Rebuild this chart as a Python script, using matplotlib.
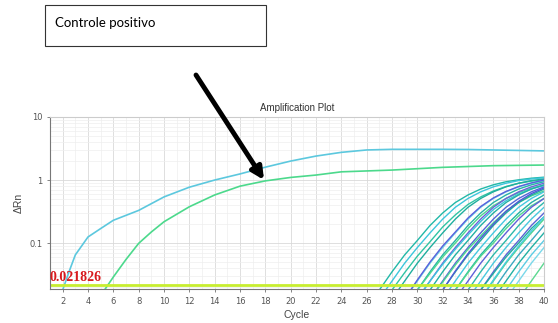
"""Amplification plot (qPCR) with the positive control highlighted."""

import matplotlib

matplotlib.use("Agg")
import matplotlib.pyplot as plt
import numpy as np
from matplotlib.patches import Rectangle
from matplotlib.ticker import FixedLocator, MultipleLocator, NullFormatter

# positive control curves (cycle, delta Rn)
cyan_cycles = [2.0, 2.5, 3, 4, 5, 6, 8, 10, 12, 14, 16, 18, 20, 22, 24, 26, 28, 30, 32, 34, 36, 38, 40]
cyan_drn = [0.018, 0.035, 0.065, 0.125, 0.17, 0.23, 0.33, 0.54, 0.77, 1.0, 1.25, 1.6, 2.0, 2.4, 2.75,
            3.0, 3.07, 3.07, 3.07, 3.05, 3.0, 2.95, 2.9]
green_cycles = [5.3, 6, 7, 8, 9, 10, 12, 14, 16, 18, 20, 22, 24, 28, 32, 36, 40]
green_drn = [0.018, 0.029, 0.055, 0.099, 0.15, 0.218, 0.377, 0.58, 0.8, 0.97, 1.1, 1.2, 1.35, 1.44,
             1.59, 1.69, 1.73]

# sample curves: first cycle, then delta Rn for each cycle up to 40
sample_start = [26, 27, 27, 28, 29, 29, 29, 29, 30, 30, 30, 31, 31, 31, 31,
                32, 32, 32, 33, 33, 34, 34, 34, 35, 35, 35, 36, 36, 37, 38]
sample_drn = [
    [0.005, 0.018, 0.035, 0.065, 0.11, 0.19, 0.30, 0.44, 0.58, 0.72, 0.84, 0.94, 1.01, 1.07, 1.11],
    [0.013, 0.025, 0.048, 0.085, 0.145, 0.24, 0.37, 0.51, 0.65, 0.78, 0.89, 0.98, 1.04, 1.09],
    [0.005, 0.018, 0.034, 0.062, 0.105, 0.18, 0.28, 0.41, 0.54, 0.67, 0.79, 0.89, 0.96, 1.02],
    [0.013, 0.025, 0.048, 0.085, 0.145, 0.24, 0.37, 0.51, 0.65, 0.78, 0.89, 0.98, 1.04],
    [0.013, 0.025, 0.048, 0.085, 0.145, 0.24, 0.37, 0.51, 0.65, 0.78, 0.89, 0.98],
    [0.013, 0.026, 0.05, 0.09, 0.15, 0.25, 0.38, 0.52, 0.66, 0.79, 0.90, 1.0],
    [0.005, 0.018, 0.035, 0.065, 0.11, 0.19, 0.30, 0.44, 0.58, 0.72, 0.84, 0.94],
    [0.005, 0.018, 0.033, 0.06, 0.10, 0.17, 0.27, 0.39, 0.51, 0.63, 0.74, 0.83],
    [0.013, 0.025, 0.048, 0.085, 0.145, 0.24, 0.37, 0.51, 0.65, 0.78, 0.89],
    [0.013, 0.025, 0.046, 0.08, 0.135, 0.22, 0.34, 0.47, 0.60, 0.72, 0.82],
    [0.005, 0.018, 0.035, 0.065, 0.11, 0.19, 0.30, 0.44, 0.58, 0.72, 0.84],
    [0.013, 0.025, 0.048, 0.085, 0.145, 0.24, 0.37, 0.51, 0.65, 0.78],
    [0.013, 0.024, 0.045, 0.08, 0.13, 0.21, 0.32, 0.44, 0.56, 0.67],
    [0.005, 0.018, 0.035, 0.065, 0.11, 0.19, 0.30, 0.44, 0.58, 0.72],
    [0.005, 0.018, 0.036, 0.068, 0.12, 0.20, 0.32, 0.46, 0.61, 0.75],
    [0.013, 0.025, 0.048, 0.085, 0.145, 0.24, 0.37, 0.51, 0.65],
    [0.005, 0.018, 0.035, 0.065, 0.11, 0.19, 0.30, 0.44, 0.58],
    [0.005, 0.018, 0.034, 0.062, 0.10, 0.17, 0.27, 0.39, 0.51],
    [0.013, 0.025, 0.048, 0.085, 0.145, 0.24, 0.37, 0.51],
    [0.005, 0.018, 0.035, 0.065, 0.11, 0.19, 0.30, 0.44],
    [0.013, 0.025, 0.048, 0.085, 0.145, 0.24, 0.37],
    [0.005, 0.018, 0.035, 0.065, 0.11, 0.19, 0.30],
    [0.005, 0.018, 0.033, 0.06, 0.10, 0.17, 0.26],
    [0.013, 0.025, 0.048, 0.085, 0.145, 0.24],
    [0.013, 0.026, 0.05, 0.09, 0.155, 0.26],
    [0.005, 0.018, 0.035, 0.065, 0.11, 0.19],
    [0.013, 0.025, 0.048, 0.085, 0.145],
    [0.005, 0.018, 0.035, 0.065, 0.11],
    [0.013, 0.025, 0.048, 0.085],
    [0.013, 0.025, 0.048],
]
sample_colors = ["#22b8a8", "#3cc6dc", "#2fc4a4", "#1fae9e", "#66d4e6", "#5a5fdc", "#26b4a6",
                 "#4cd88e", "#6a62d8", "#3cc6dc", "#22b0a4", "#5566d8", "#4cd88e", "#20aaa0",
                 "#5058d6", "#44c8e0", "#22b4a6", "#50d890", "#6060d8", "#2cb8aa", "#48c8de",
                 "#5a64d6", "#22aca0", "#4cd490", "#48cce0", "#3aa8c0", "#22b0a4", "#5ccce4",
                 "#7ad8ea", "#5cd890"]

threshold = 0.021826
x_ticks = list(range(2, 41, 2))

fig = plt.figure(figsize=(5.58, 3.23), dpi=100)
ax = fig.add_axes([50 / 558, 1 - 289 / 323, 494 / 558, 172 / 323])

for start, vals, col in zip(sample_start, sample_drn, sample_colors):
    cyc = np.arange(start, start + len(vals))
    ax.plot(cyc, vals, color=col, lw=1.0)

ax.plot(cyan_cycles, cyan_drn, color="#5cc8de", lw=1.2)
ax.plot(green_cycles, green_drn, color="#4cd98c", lw=1.2)
ax.axhline(threshold, color="#c8ee30", lw=2.0)

ax.set_yscale("log")
ax.set_xlim(1, 40)
ax.set_ylim(0.0187, 10)
ax.xaxis.set_major_locator(FixedLocator(x_ticks))
ax.xaxis.set_minor_locator(MultipleLocator(1))
ax.yaxis.set_minor_formatter(NullFormatter())
ax.set_yticks([0.1, 1, 10])
ax.set_yticklabels(["0.1", "1", "10"])
ax.grid(which="major", color="#d9d9d9", lw=0.6)
ax.grid(which="minor", color="#eeeeee", lw=0.5)
ax.set_axisbelow(True)
ax.tick_params(labelsize=6, colors="#555555", length=2, width=0.5)
ax.tick_params(which="minor", length=0)
for side in ["left", "bottom"]:
    ax.spines[side].set_color("#777777")
for side in ["top", "right"]:
    ax.spines[side].set_color("#cccccc")

ax.set_title("Amplification Plot", fontsize=7, family="Liberation Sans", color="#333333", pad=4)
ax.set_xlabel("Cycle", fontsize=7.5, family="Liberation Sans", color="#444444", labelpad=3)
ax.set_ylabel("\u0394Rn", fontsize=7.5, family="Liberation Sans", color="#444444", labelpad=4)

ax.text(1.0, threshold * 1.02, "0.021826", color="#d81a1e", fontsize=10,
        family="Liberation Serif", weight="bold", va="bottom", ha="left")

# annotation box and arrow
fig.add_artist(Rectangle((45 / 558, 1 - 46 / 323), 221 / 558, 41 / 323, transform=fig.transFigure,
                         facecolor="white", edgecolor="#333333", lw=0.8))
fig.text(55 / 558, 1 - 23 / 323, "Controle positivo", fontsize=9.5, family="Lato",
         va="center", ha="left")
ax.annotate("", xy=(264, 323 - 180), xytext=(196, 323 - 75), xycoords="figure pixels",
            textcoords="figure pixels", annotation_clip=False,
            arrowprops=dict(arrowstyle="-|>", color="black", lw=3.5, mutation_scale=18,
                            shrinkA=0, shrinkB=0))

fig.savefig("out.png", dpi=100)
